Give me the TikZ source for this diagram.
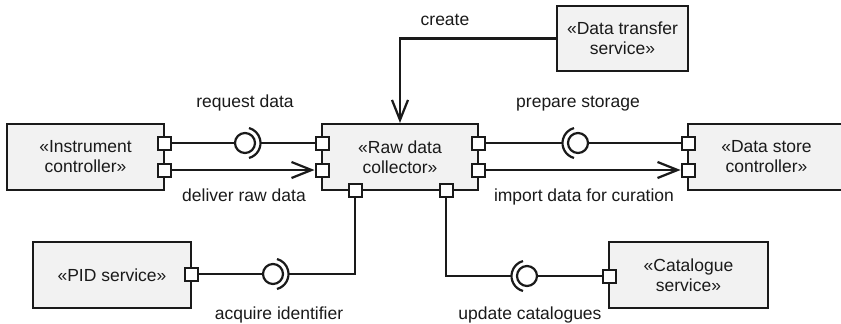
\documentclass[tikz,border=0pt]{standalone}
\usepackage{fontspec}
\setmainfont{Liberation Sans}
\usetikzlibrary{arrows.meta,calc}
\definecolor{ink}{HTML}{1A1A1A}
\definecolor{boxfill}{HTML}{F2F2F2}
\begin{document}
\begin{tikzpicture}[x=1pt,y=-1pt,
 comp/.style={draw=ink,fill=boxfill,line width=2.2pt,inner sep=0pt,align=center,text=ink,font=\fontsize{17.5}{20}\selectfont},
 port/.style={draw=ink,fill=white,line width=2pt,minimum size=13pt,inner sep=0pt},
 ball/.style={circle,draw=ink,line width=2.2pt,minimum size=20pt,inner sep=0pt},
 wire/.style={draw=ink,line width=2.2pt},
 flow/.style={wire,-{Straight Barb[length=20pt,width=16pt,line width=2.2pt]}},
 lbl/.style={anchor=base,inner sep=0pt,font=\fontsize{17.5}{20}\selectfont,text=ink}]
\useasboundingbox (0,0) rectangle (841,324);
\clip (0,0) rectangle (841,324);

% components
\node[comp,minimum width=157pt,minimum height=66pt] (ic) at (85.5,157) {«Instrument\\controller»};
\node[comp,minimum width=156pt,minimum height=66pt] (raw) at (400,157) {«Raw data\\collector»};
\node[comp,minimum width=157pt,minimum height=66pt] (ds) at (766.5,157) {«Data store\\controller»};
\node[comp,minimum width=131pt,minimum height=65pt] (dts) at (622.5,38.5) {«Data transfer\\service»};
\node[comp,minimum width=158pt,minimum height=66pt] (pid) at (112,275) {«PID service»};
\node[comp,minimum width=159pt,minimum height=66pt] (cat) at (688.5,275) {«Catalogue\\service»};

% ports
\node[port] (ic1) at (164,143) {};
\node[port] (ic2) at (164,170) {};
\node[port] (rd1) at (322,143) {};
\node[port] (rd2) at (322,170) {};
\node[port] (rd3) at (478,143) {};
\node[port] (rd4) at (478,170) {};
\node[port] (rd5) at (355,190) {};
\node[port] (rd6) at (446,190) {};
\node[port] (ds1) at (688,143) {};
\node[port] (ds2) at (688,170) {};
\node[port] (pp) at (191,274) {};
\node[port] (cp) at (609,276) {};

% balls and sockets
\node[ball] (b1) at (245,143) {};
\coordinate (s1) at (260.5,143);
\draw[wire] (b1.center) ++(75:15.5) arc[start angle=75,end angle=-75,radius=15.5];
\node[ball] (b2) at (578,143) {};
\coordinate (s2) at (562.5,143);
\draw[wire] (b2.center) ++(105:15.5) arc[start angle=105,end angle=255,radius=15.5];
\node[ball] (b3) at (273,274) {};
\coordinate (s3) at (288.5,274);
\draw[wire] (b3.center) ++(75:15.5) arc[start angle=75,end angle=-75,radius=15.5];
\node[ball] (b4) at (527,276) {};
\coordinate (s4) at (511.5,276);
\draw[wire] (b4.center) ++(105:15.5) arc[start angle=105,end angle=255,radius=15.5];

% connectors
\draw[wire] (ic1) -- (b1);
\draw[wire] (s1) -- (rd1);
\draw[flow] (ic2) -- (rd2);
\draw[wire] (rd3) -- (s2);
\draw[wire] (b2) -- (ds1);
\draw[flow] (rd4) -- (ds2);
\draw[wire] (pp) -- (b3);
\draw[wire] (s3) -| (rd5);
\draw[wire] (rd6) |- (s4);
\draw[wire] (b4) -- (cp);
\draw[flow] (dts.west) -| (raw.north);

% labels
\node[lbl] (lcreate) at (445,25) {create};
\node[lbl] (lreq) at (245,107) {request data};
\node[lbl] (lprep) at (578,107) {prepare storage};
\node[lbl] (ldel) at (244,201) {deliver raw data};
\node[lbl] (limp) at (584,201) {import data for curation};
\node[lbl] (lacq) at (279,319) {acquire identifier};
\node[lbl] (lupd) at (530,319) {update catalogues};
\end{tikzpicture}
\end{document}
